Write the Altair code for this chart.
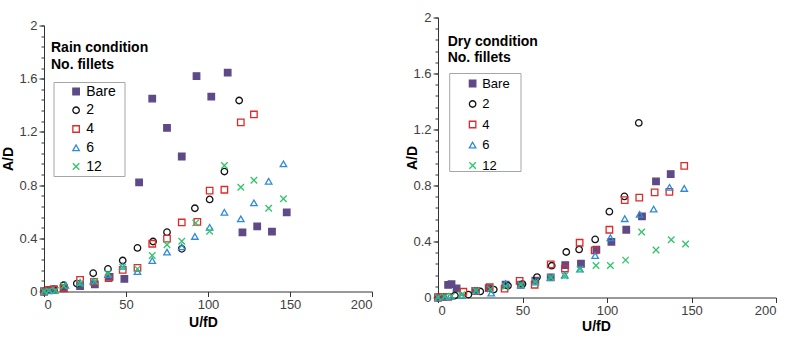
import altair as alt
import pandas as pd

FONT = "Liberation Sans"

series_names = ["Bare", "2", "4", "6", "12"]
shapes = ["square", "circle", "square", "triangle-up", "M-1,-1L1,1M1,-1L-1,1"]
stroke_colors = ["#5E4A86", "#111111", "#E02A2A", "#2F8BD6", "#2FC46A"]
fill_colors = ["#5E4A86", "transparent", "transparent", "transparent", "transparent"]

x_ticks = [0, 50, 100, 150, 200]
y_ticks = [0, 0.4, 0.8, 1.2, 1.6, 2]
y_minor = [0, 0.08, 0.16, 0.24, 0.32, 0.4, 0.48, 0.56, 0.64, 0.72, 0.8, 0.88, 0.96,
           1.04, 1.12, 1.2, 1.28, 1.36, 1.44, 1.52, 1.6, 1.68, 1.76, 1.84, 1.92, 2]

# ---- Rain condition ----
rain_bare_x = [0, 3, 6, 12, 22, 31, 40, 49, 58, 66, 75, 84, 93, 102, 112, 121, 130, 139, 148]
rain_bare_y = [0, 0.01, 0.015, 0.023, 0.04, 0.053, 0.11, 0.095, 0.82, 1.45, 1.23, 1.015,
               1.62, 1.465, 1.645, 0.445, 0.49, 0.45, 0.595]
rain_2_x = [0, 3, 6, 12, 20, 30, 39, 48, 57, 66.5, 75, 84, 92, 101, 110, 119]
rain_2_y = [0, 0.01, 0.015, 0.047, 0.06, 0.138, 0.17, 0.233, 0.328, 0.376, 0.446, 0.321,
            0.626, 0.692, 0.902, 1.436]
rain_4_x = [0, 3, 6, 12, 22, 30.5, 39.4, 48, 57, 66, 75, 84, 93.5, 101, 110, 120, 128]
rain_4_y = [0, 0.01, 0.015, 0.028, 0.088, 0.073, 0.1, 0.163, 0.178, 0.359, 0.398, 0.519,
            0.524, 0.759, 0.765, 1.271, 1.331]
rain_6_x = [0, 3, 6, 13, 22, 30, 39, 48, 57, 66, 75, 84, 92, 101, 110, 120, 128, 137, 146]
rain_6_y = [0, 0.005, 0.01, 0.047, 0.068, 0.078, 0.128, 0.19, 0.15, 0.233, 0.296, 0.336,
            0.414, 0.483, 0.596, 0.546, 0.667, 0.829, 0.96]
rain_12_x = [0, 3, 7, 12, 22, 31, 39, 48, 57, 66, 75, 84, 92.5, 101, 110, 120, 128, 137, 146]
rain_12_y = [0, 0.005, 0.008, 0.043, 0.06, 0.078, 0.133, 0.183, 0.17, 0.271, 0.351, 0.378,
             0.516, 0.453, 0.947, 0.784, 0.837, 0.626, 0.697]

# ---- Dry condition ----
dry_bare_x = [0, 3, 6, 8, 11, 22, 30, 40, 49, 57.6, 66.7, 75.3, 84.6, 93.7, 102.6, 111.4,
              120.7, 129, 137.7]
dry_bare_y = [0, 0.005, 0.09, 0.095, 0.065, 0.048, 0.067, 0.091, 0.091, 0.12, 0.143, 0.232,
              0.241, 0.341, 0.398, 0.484, 0.579, 0.83, 0.882]
dry_2_x = [0, 3, 10, 18, 25, 33, 41.4, 50, 58.6, 67.3, 75.9, 83.5, 93, 101.4, 110.3, 118.8]
dry_2_y = [0, 0.005, 0.014, 0.021, 0.043, 0.057, 0.084, 0.096, 0.146, 0.227, 0.325, 0.343,
           0.415, 0.613, 0.722, 1.247]
dry_4_x = [0, 3, 6, 15, 22.5, 30.6, 39.4, 48.3, 57.2, 66.7, 75.1, 83.8, 92.7, 101.4, 110.5,
           119.1, 128.2, 136.9, 145.7]
dry_4_y = [0, 0.005, 0.005, 0.041, 0.048, 0.074, 0.064, 0.119, 0.091, 0.236, 0.207, 0.391,
           0.336, 0.484, 0.696, 0.713, 0.751, 0.754, 0.94]
dry_6_x = [0, 4, 7, 14, 22.5, 31.5, 40, 49, 57.6, 66.5, 75, 84, 93, 102, 110.5, 119.3,
           127.6, 137, 145.7]
dry_6_y = [0, 0.003, 0.007, 0.014, 0.048, 0.031, 0.1, 0.091, 0.11, 0.143, 0.16, 0.203,
           0.3, 0.427, 0.563, 0.594, 0.632, 0.787, 0.779]
dry_12_x = [0, 4, 8, 14, 22.5, 31, 40, 49, 57.6, 66.7, 75, 84, 93.5, 102, 111, 120.5, 129,
            138, 146.5]
dry_12_y = [0, 0.005, 0.01, 0.02, 0.048, 0.06, 0.08, 0.091, 0.11, 0.143, 0.155, 0.203,
            0.229, 0.229, 0.267, 0.468, 0.339, 0.413, 0.382]


def build_df(pairs):
    rows = []
    for name, (xs, ys) in zip(series_names, pairs):
        for u, a in zip(xs, ys):
            rows.append({"series": name, "u": u, "a": a})
    return pd.DataFrame(rows)


rain_df = build_df([(rain_bare_x, rain_bare_y), (rain_2_x, rain_2_y), (rain_4_x, rain_4_y),
                    (rain_6_x, rain_6_y), (rain_12_x, rain_12_y)])
dry_df = build_df([(dry_bare_x, dry_bare_y), (dry_2_x, dry_2_y), (dry_4_x, dry_4_y),
                   (dry_6_x, dry_6_y), (dry_12_x, dry_12_y)])


def panel(df, w, h, y_top, lines, text_x, text_ys, box, leg_x, leg_y, leg_pad, leg_row,
          leg_font, lab_off, ytitle_x, xtitle_x, xtitle_y):
    xs = alt.Scale(domain=[0, 200], nice=False)
    ys = alt.Scale(domain=[0, 2], nice=False, range=[h, y_top])
    leg = alt.Legend(orient="none", legendX=leg_x, legendY=leg_y, title=None,
                     padding=leg_pad, rowPadding=leg_row, labelOffset=lab_off,
                     labelFontSize=leg_font, labelFont=FONT, labelColor="#000000",
                     symbolSize=42, symbolStrokeWidth=1.3)
    points = alt.Chart(df).mark_point(size=42, strokeWidth=1.3, opacity=1).encode(
        x=alt.X("u:Q", scale=xs,
                axis=alt.Axis(values=x_ticks, title="U/fD", titleX=xtitle_x,
                              titleY=xtitle_y, titleBaseline="middle")),
        y=alt.Y("a:Q", scale=ys,
                axis=alt.Axis(values=y_ticks, format="~g", title="A/D", orient="left",
                              titleX=ytitle_x, titleBaseline="middle")),
        shape=alt.Shape("series:N", scale=alt.Scale(domain=series_names, range=shapes),
                        legend=leg),
        fill=alt.Fill("series:N", scale=alt.Scale(domain=series_names, range=fill_colors),
                      legend=leg),
        stroke=alt.Stroke("series:N",
                          scale=alt.Scale(domain=series_names, range=stroke_colors),
                          legend=leg),
    )
    minor = alt.Chart(df).mark_point(opacity=0).encode(
        y=alt.Y("a:Q", scale=ys,
                axis=alt.Axis(values=y_minor, labels=False, title=None, domain=False,
                              tickSize=3, orient="left")),
    )
    one = pd.DataFrame({"k": [0]})
    frame = alt.Chart(one).mark_rect(fill="transparent", stroke="#a6a6a6",
                                     strokeWidth=1).encode(
        x=alt.value(box[0]), x2=alt.value(box[1]), y=alt.value(box[2]), y2=alt.value(box[3]))
    texts = []
    for line, ty in zip(lines, text_ys):
        texts.append(
            alt.Chart(one).mark_text(text=line, align="left", baseline="middle", font=FONT,
                                     fontSize=14, fontWeight="bold", color="#000000")
            .encode(x=alt.value(text_x), y=alt.value(ty))
        )
    return (alt.layer(minor, frame, points, *texts).resolve_axis(y="independent")
            .properties(width=w, height=h))


# left panel: plot area spans 8..274 inside a 274-high view (offset from right panel top)
left = panel(rain_df, 328, 274, 8, ["Rain condition", "No. fillets"], 7, [30.7, 47],
             (10, 81, 65, 159), 10 + 13.1, 65, 2, 4.75, 14, 3.1, -36, 159, 31)
right = panel(dry_df, 338, 280, 0, ["Dry condition", "No. fillets"], 9.7, [24, 40],
              (11.7, 83, 56, 154), 11.7 + 12.9, 56, 3.5, 6.5, 13, 3.1, -26, 158, 29)

chart = (
    alt.hconcat(left, right, spacing=32)
    .resolve_scale(shape="independent", fill="independent", stroke="independent")
    .resolve_legend(shape="independent", fill="independent", stroke="independent")
    .properties(padding={"left": 1, "top": 11.5, "right": 0, "bottom": 0})
    .configure_view(stroke=None)
    .configure_axis(labelFont=FONT, labelFontSize=13, labelColor="#404040",
                    titleFont=FONT, titleFontSize=14, titleFontWeight="bold",
                    titleColor="#000000", domainColor="#333333", tickColor="#333333",
                    grid=False, tickSize=5, labelPadding=2)
)

chart.save("out.html", embed_options={"renderer": "svg", "actions": False})
